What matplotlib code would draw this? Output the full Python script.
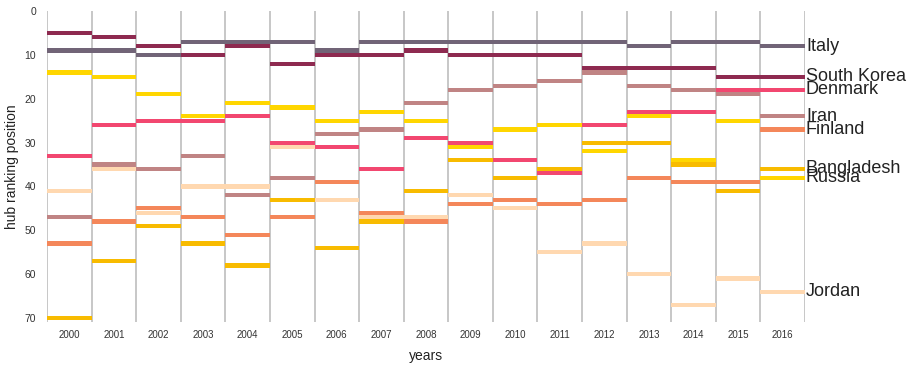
import matplotlib.pyplot as plt
import numpy as np

plt.rcParams['font.family'] = ['Liberation Sans', 'DejaVu Sans']

years = list(range(2000, 2017))
countries = ['Italy', 'South Korea', 'Denmark', 'Iran', 'Finland',
             'Bangladesh', 'Russia', 'Jordan']
colors = ['#716477', '#8e2a50', '#f24770', '#c08484', '#f4875a',
          '#f8bb00', '#ffd600', '#ffd8b0']

italy       = [9, 9, 10, 7, 7, 7, 9, 7, 7, 7, 7, 7, 7, 8, 7, 7, 8]
south_korea = [5, 6, 8, 10, 8, 12, 10, 10, 9, 10, 10, 10, 13, 13, 13, 15, 15]
denmark     = [33, 26, 25, 25, 24, 30, 31, 36, 29, 30, 34, 37, 26, 23, 23, 18, 18]
iran        = [47, 35, 36, 33, 42, 38, 28, 27, 21, 18, 17, 16, 14, 17, 18, 19, 24]
finland     = [53, 48, 45, 47, 51, 47, 39, 46, 48, 44, 43, 44, 43, 38, 39, 39, 27]
bangladesh  = [70, 57, 49, 53, 58, 43, 54, 48, 41, 34, 38, 36, 30, 30, 35, 41, 36]
russia      = [14, 15, 19, 24, 21, 22, 25, 23, 25, 31, 27, 26, 32, 24, 34, 25, 38]
jordan      = [41, 36, 46, 40, 40, 31, 43, 47, 47, 42, 45, 55, 53, 60, 67, 61, 64]

ranks = [italy, south_korea, denmark, iran, finland, bangladesh, russia, jordan]

fig = plt.figure(figsize=(9.13, 3.68), dpi=100)
ax = fig.add_axes([0.0515, 0.125, 0.8302, 0.845])

x = np.arange(len(years))
# draw lower-ranked countries first so the top ones sit above
for name, col, vals in reversed(list(zip(countries, colors, ranks))):
    vals = np.array(vals, dtype=float)
    ax.bar(x, 0.95, bottom=vals - 0.475, width=1.0, align='edge',
           color=col, edgecolor='none', zorder=3)
    ax.text(len(years) + 0.02, vals[-1], name, fontsize=13,
            va='center', ha='left', color='#222222')

for xi in range(len(years) + 1):
    ax.axvline(xi, color='#bdbdbd', linewidth=1.2, zorder=1)

ax.set_xlim(0, len(years))
ax.set_ylim(70.9, 0)
ax.set_yticks(range(0, 71, 10))
ax.set_xticks(x + 0.5)
ax.set_xticklabels([str(y) for y in years], fontsize=7, color='#333333')
ax.tick_params(axis='y', labelsize=7.5, colors='#333333', length=0, pad=8)
ax.tick_params(axis='x', length=0, pad=6)
for s in ax.spines.values():
    s.set_visible(False)

ax.set_xlabel('years', fontsize=10, color='#222222', labelpad=6)
ax.set_ylabel('hub ranking position', fontsize=10, color='#222222')
ax.yaxis.set_label_coords(-0.037, 0.5)

fig.savefig('out.png', dpi=100)
